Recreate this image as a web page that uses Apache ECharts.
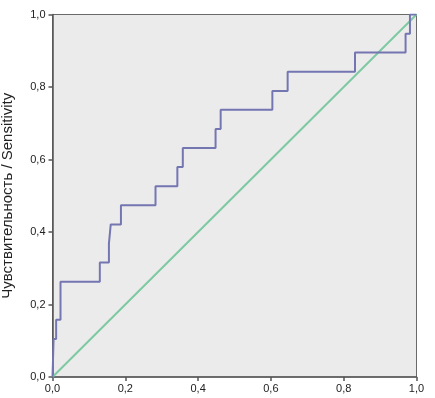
<!DOCTYPE html>
<html>
<head>
<meta charset="utf-8">
<script src="https://cdn.jsdelivr.net/npm/echarts@6/dist/echarts.min.js"></script>
<style>
html,body{margin:0;padding:0;background:#fff;}
#c{width:435px;height:398px;}
</style>
</head>
<body>
<div id="c"></div>
<script>
// 1 - specificity (false positive rate)
const rocX = [0, 0.003, 0.010, 0.022, 0.130, 0.155, 0.160, 0.188, 0.283, 0.343, 0.358, 0.448, 0.462, 0.604, 0.646, 0.831, 0.970, 0.982, 1.0];
// sensitivity
const rocY = [0, 0.105, 0.158, 0.263, 0.316, 0.368, 0.421, 0.474, 0.526, 0.579, 0.632, 0.684, 0.737, 0.789, 0.842, 0.895, 0.947, 1.0, 1.0];
const diagX = [0, 1];
const diagY = [0, 1];
const yAxisTitle = 'Чувствительность / Sensitivity';

const rocData = rocX.map((x, i) => [x, rocY[i]]);
const diagData = diagX.map((x, i) => [x, diagY[i]]);
const fmt = v => v.toFixed(1).replace('.', ',');

const chart = echarts.init(document.getElementById('c'), null, {renderer: 'canvas'});
chart.setOption({
  animation: false,
  backgroundColor: '#ffffff',
  textStyle: {fontFamily: 'Liberation Sans, Arial, sans-serif'},
  grid: {
    left: 52.5, top: 14.5, right: 18.5, bottom: 21,
    containLabel: false, outerBoundsMode: 'none',
    show: true, backgroundColor: '#ECEBEB', borderColor: '#6a6a6a', borderWidth: 1
  },
  xAxis: {
    type: 'value', min: 0, max: 1, interval: 0.2,
    axisLine: {show: true, onZero: false, lineStyle: {color: '#555', width: 1.5}},
    axisTick: {show: true, length: 4, lineStyle: {color: '#555', width: 1.5}},
    splitLine: {show: false},
    axisLabel: {formatter: fmt, color: '#222', fontSize: 11, margin: 6,
      fontFamily: 'Liberation Sans, Arial, sans-serif'}
  },
  yAxis: {
    type: 'value', min: 0, max: 1, interval: 0.2,
    name: yAxisTitle, nameLocation: 'middle', nameGap: 37,
    nameTextStyle: {color: '#222', fontSize: 15, fontFamily: 'Liberation Sans, Arial, sans-serif'},
    axisLine: {show: true, onZero: false, lineStyle: {color: '#555', width: 1.5}},
    axisTick: {show: true, length: 4, lineStyle: {color: '#555', width: 1.5}},
    splitLine: {show: false},
    axisLabel: {formatter: fmt, color: '#222', fontSize: 11, margin: 7,
      fontFamily: 'Liberation Sans, Arial, sans-serif'}
  },
  series: [
    {
      type: 'line', data: diagData, symbol: 'none',
      lineStyle: {color: '#7CC9A2', width: 2}, z: 2
    },
    {
      type: 'line', data: rocData, symbol: 'none', step: 'end',
      lineStyle: {color: '#7476B2', width: 2}, z: 3
    }
  ]
});
</script>
</body>
</html>
